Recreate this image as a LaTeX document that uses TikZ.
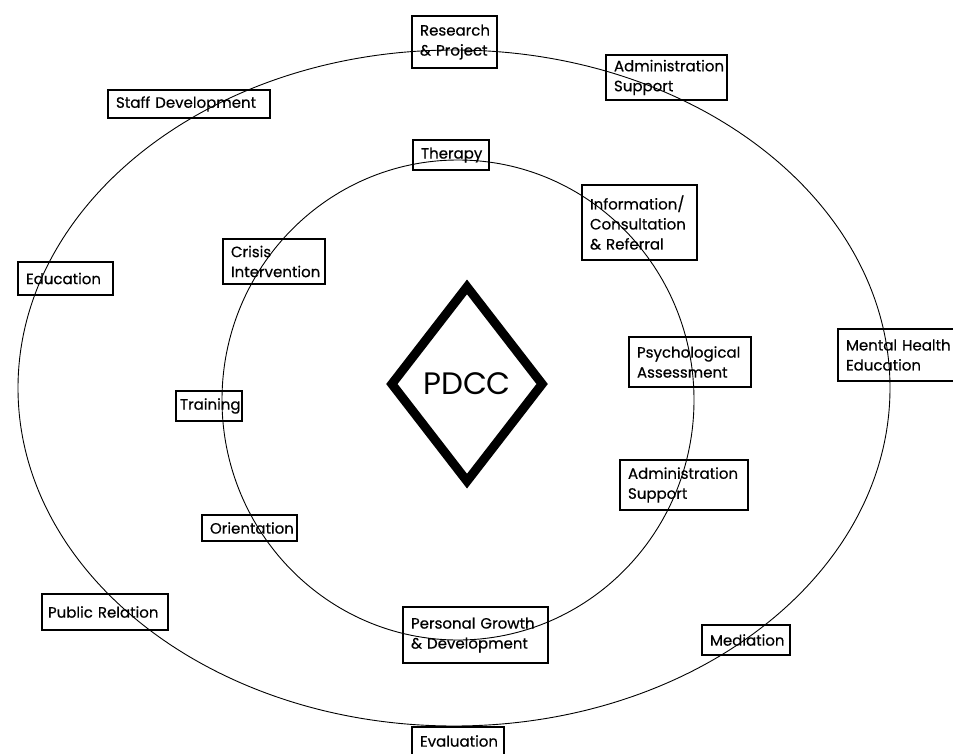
\documentclass[tikz,border=0pt]{standalone}
\usepackage{fontspec}
\setmainfont{Poppins}[FakeBold=0.35]
\newfontfamily\hubfont{Poppins}
\usetikzlibrary{shapes.geometric}
\newcommand{\nohyph}{\hyphenpenalty=10000\relax\exhyphenpenalty=10000\relax}
\tikzset{
  ring/.style={draw, line width=0.9pt},
  bx/.style={draw, line width=2pt, align=left, inner xsep=8pt, inner ysep=1pt,
    font=\fontsize{15}{20}\selectfont\nohyph,
    anchor=center},
  hub/.style={draw, diamond, line width=9pt, inner sep=0pt, aspect=0.78,
    minimum width=154pt, minimum height=198pt,
    font=\hubfont\fontsize{31}{33}\selectfont}
}
\begin{document}
\begin{tikzpicture}[x=1pt,y=-1pt]
\useasboundingbox (0,0) rectangle (953,753);
\fill[white] (0,0) rectangle (953,753);
\clip (0,0) rectangle (953,753);
% rings
\draw[ring] (454,388) ellipse [x radius=436, y radius=338];
\draw[ring] (458,400) ellipse [x radius=236, y radius=240];
% centre
\node[hub] (pdcc) at (467,384) {PDCC};
% outer ring items
\node[bx, text width=69pt, minimum height=52pt] (res) at (454.5,42) {Research\\\& Project};
\node[bx, text width=105pt, minimum height=45pt] (adm1) at (666.5,77.5) {Administration\\Support};
\node[bx, text width=146pt, minimum height=28pt] (staff) at (189,104) {Staff Development};
\node[bx, text width=79pt, minimum height=33pt] (edu) at (65.5,278.5) {Education};
\node[bx, text width=106pt, minimum height=52pt] (mental) at (899,355) {Mental Health\\Education};
\node[bx, inner xsep=6pt, text width=114pt, minimum height=36pt] (public) at (105,612) {Public Relation};
\node[bx, text width=72pt, minimum height=30pt] (med) at (746,640) {Mediation};
\node[bx, text width=76pt, minimum height=28pt] (eval) at (458,741) {Evaluation};
% inner ring items
\node[bx, text width=60pt, minimum height=30pt] (therapy) at (451,155) {Therapy};
\node[bx, text width=86pt, minimum height=45pt] (crisis) at (274,261.5) {Crisis\\Intervention};
\node[bx, text width=99pt, minimum height=75pt] (info) at (639.5,222.5) {Information/\\Consultation\\\& Referral};
\node[bx, text width=106pt, minimum height=50pt] (psych) at (690,362) {Psychological\\Assessment};
\node[bx, inner xsep=4pt, text width=58pt, minimum height=30pt] (train) at (209,406) {Training};
\node[bx, text width=112pt, minimum height=50pt] (adm2) at (684,485) {Administration\\Support};
\node[bx, text width=79pt, minimum height=26pt] (orient) at (249.5,528) {Orientation};
\node[bx, text width=129pt, minimum height=56pt] (pers) at (475.5,635) {Personal Growth\\\& Development};
\end{tikzpicture}
\end{document}
